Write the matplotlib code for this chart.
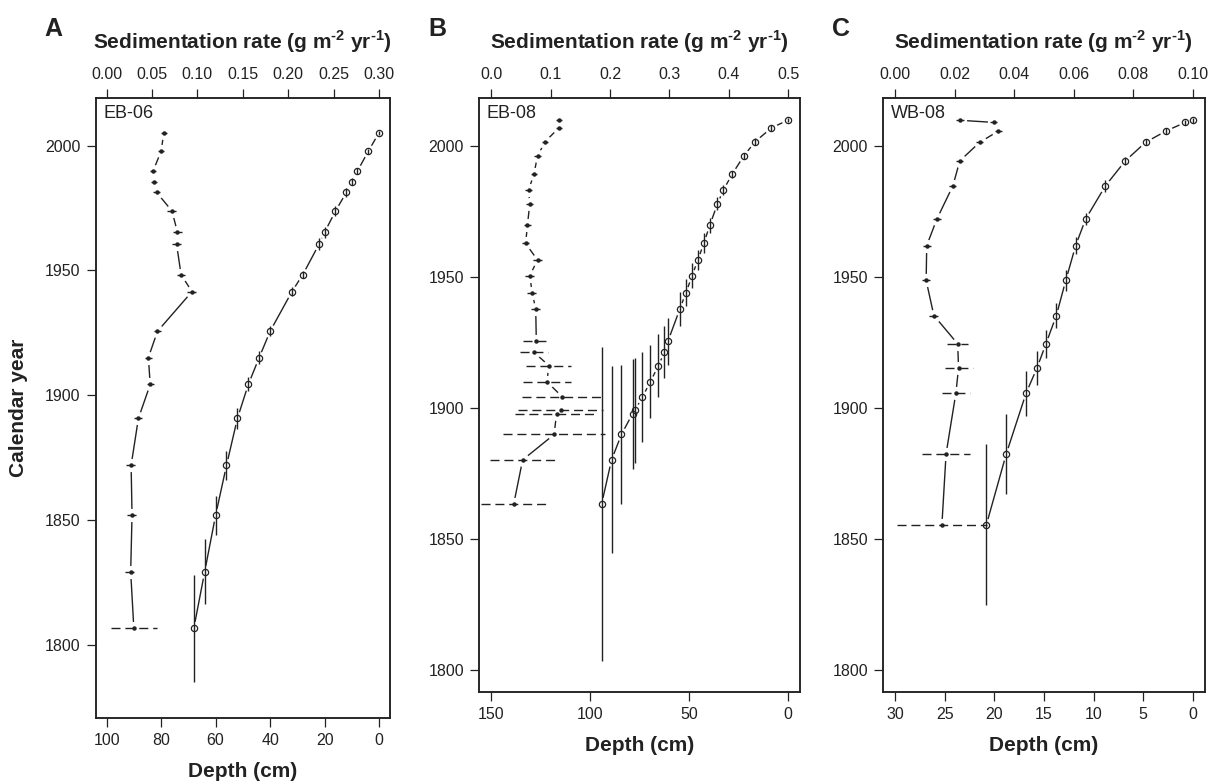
"""Depth and sedimentation rate against calendar year for three sediment cores."""

import matplotlib

matplotlib.use("Agg")
import matplotlib.pyplot as plt
from matplotlib.ticker import FormatStrFormatter

plt.rcParams["font.family"] = ["Liberation Sans", "DejaVu Sans"]
plt.rcParams["mathtext.fontset"] = "custom"
plt.rcParams["mathtext.rm"] = "Liberation Sans"
plt.rcParams["mathtext.bf"] = "Liberation Sans:bold"

INK = "#222222"
W, H = 1210, 782

# --- EB-06 ---
years_a = [2005.2, 1997.7, 1989.7, 1985.6, 1981.3, 1973.8, 1965.3, 1960.6, 1948.3,
           1941.5, 1925.6, 1915.1, 1904.3, 1890.7, 1871.9, 1851.9, 1829.3, 1806.6]
depth_a = [0, 4, 8, 10, 12, 16, 20, 22, 28, 32, 40, 44, 48, 52, 56, 60, 64, 68]
year_err_a = [0.8, 1.0, 1.2, 1.3, 1.8, 1.9, 2.2, 2.3, 1.5, 1.7, 2.0, 2.5, 2.8, 4.2,
              5.7, 7.8, 13.0, 21.5]
rate_a = [0.063, 0.060, 0.051, 0.052, 0.055, 0.072, 0.078, 0.077, 0.082, 0.094,
          0.056, 0.046, 0.048, 0.035, 0.027, 0.028, 0.0265, 0.030]
rate_err_a = [0.0035, 0.0035, 0.0035, 0.0035, 0.0035, 0.0055, 0.0045, 0.005, 0.0045,
              0.0055, 0.004, 0.0035, 0.004, 0.0045, 0.0055, 0.0055, 0.006, 0.0257]

# --- EB-08 ---
years_b = [2009.8, 2006.8, 2001.6, 1996.1, 1989.1, 1983.1, 1977.8, 1969.6, 1962.7,
           1956.4, 1950.4, 1943.9, 1937.7, 1925.4, 1921.2, 1916.1, 1909.9, 1904.1,
           1899.0, 1897.7, 1889.8, 1880.1, 1863.3]
depth_b = [0, 8.4, 16.6, 22.4, 28.3, 32.7, 35.7, 39.6, 42.6, 45.6, 48.5, 51.6, 54.7,
           60.7, 62.5, 65.5, 69.6, 73.6, 77.4, 78.6, 84.2, 89.2, 94.2]
year_err_b = [0.8, 1.0, 1.2, 1.3, 1.4, 1.9, 2.5, 3.0, 3.8, 3.8, 4.8, 5.2, 6.5, 9.0,
              10.0, 12.0, 14.0, 17.0, 20.0, 21.0, 26.5, 35.7, 60.0]
rate_b = [0.114, 0.114, 0.091, 0.078, 0.072, 0.063, 0.065, 0.061, 0.058, 0.078, 0.065,
          0.069, 0.075, 0.076, 0.072, 0.097, 0.094, 0.120, 0.117, 0.110, 0.106, 0.053,
          0.038]
rate_err_b = [0.0055, 0.0055, 0.0055, 0.0055, 0.0055, 0.006, 0.006, 0.006, 0.006,
              0.008, 0.0084, 0.0087, 0.0084, 0.022, 0.0235, 0.038, 0.040, 0.068,
              0.071, 0.070, 0.086, 0.055, 0.055]

# --- WB-08 ---
years_c = [2009.7, 2008.9, 2005.6, 2001.3, 1994.2, 1984.7, 1972.0, 1961.9, 1948.6,
           1935.2, 1924.4, 1915.2, 1905.6, 1882.4, 1855.4]
depth_c = [0, 0.75, 2.7, 4.75, 6.8, 8.8, 10.8, 11.8, 12.8, 13.75, 14.8, 15.7, 16.8,
           18.8, 20.8]
year_err_c = [1.0, 1.0, 1.1, 1.2, 1.6, 2.2, 2.4, 3.4, 4.1, 4.9, 5.3, 6.6, 8.6, 15.4, 30.7]
rate_c = [0.0218, 0.0331, 0.0347, 0.0284, 0.0217, 0.0194, 0.0140, 0.0106, 0.0104,
          0.0130, 0.0210, 0.0213, 0.0204, 0.0171, 0.0157]
rate_err_c = [0.0012, 0.0012, 0.0012, 0.0012, 0.0012, 0.0012, 0.0013, 0.0013, 0.0013,
              0.0015, 0.0036, 0.0047, 0.0048, 0.0081, 0.015]

# layout in pixels: left, top, right, bottom of each plot box
PANELS = [
    dict(letter="A", core="EB-06", box=(95.7, 97.7, 390.0, 717.7),
         depth_lim=(104, -4), depth_ticks=[100, 80, 60, 40, 20, 0],
         rate_lim=(-0.012, 0.312), rate_ticks=[0, 0.05, 0.10, 0.15, 0.20, 0.25, 0.30],
         rate_fmt="%.2f", ylim=(1770.8, 2019.2)),
    dict(letter="B", core="EB-08", box=(479.3, 97.5, 800.0, 691.8),
         depth_lim=(156, -6), depth_ticks=[150, 100, 50, 0],
         rate_lim=(-0.02, 0.52), rate_ticks=[0, 0.1, 0.2, 0.3, 0.4, 0.5],
         rate_fmt="%.1f", ylim=(1791.6, 2018.4)),
    dict(letter="C", core="WB-08", box=(883.3, 97.5, 1204.6, 691.8),
         depth_lim=(31.2, -1.2), depth_ticks=[30, 25, 20, 15, 10, 5, 0],
         rate_lim=(-0.004, 0.104), rate_ticks=[0, 0.02, 0.04, 0.06, 0.08, 0.10],
         rate_fmt="%.2f", ylim=(1791.6, 2018.4)),
]

RATE_LABEL = "Sedimentation rate (g m$^{\\mathbf{\u20102}}$ yr$^{\\mathbf{\u20101}}$)"


def fx(x):
    return x / W


def fy(y):
    return 1 - y / H


def draw_series(ax, x, y, marker_style, xerr=None, yerr=None, err_ls="solid"):
    ax.plot(x, y, color=INK, lw=1.0, zorder=2)
    # white halo so the connecting line stops short of each point
    ax.plot(x, y, ls="none", marker="o", ms=8.5, mfc="white", mec="white", zorder=3)
    eb = ax.errorbar(x, y, xerr=xerr, yerr=yerr, fmt="none", ecolor=INK,
                     elinewidth=1.0, zorder=4)
    for coll in eb.lines[2]:
        coll.set_linestyle(err_ls)
    ax.plot(x, y, ls="none", zorder=5, **marker_style)


def draw_core(fig, panel, years, depth, year_err, rate, rate_err):
    left, top, right, bottom = panel["box"]
    rect = [fx(left), fy(bottom), (right - left) / W, (bottom - top) / H]
    ax = fig.add_axes(rect)
    ax_top = ax.twiny()

    draw_series(ax, depth, years, yerr=year_err,
                marker_style=dict(marker="o", ms=4.5, mfc="none", mec=INK, mew=0.9))
    draw_series(ax_top, rate, years, xerr=rate_err, err_ls=(0, (6.5, 3.5)),
                marker_style=dict(marker="o", ms=2.2, mfc=INK, mec=INK))

    ax.set_xlim(panel["depth_lim"])
    ax.set_xticks(panel["depth_ticks"])
    ax.set_ylim(panel["ylim"])
    ax.set_yticks([1800, 1850, 1900, 1950, 2000])
    ax_top.set_xlim(panel["rate_lim"])
    ax_top.set_xticks(panel["rate_ticks"])
    ax_top.xaxis.set_major_formatter(FormatStrFormatter(panel["rate_fmt"]))

    for a in (ax, ax_top):
        a.tick_params(direction="out", length=6.5, width=0.9, labelsize=11.5,
                      pad=4.5, colors=INK)
        for spine in a.spines.values():
            spine.set_linewidth(1.1)
            spine.set_color(INK)

    cx = (left + right) / 2
    fig.text(fx(cx), fy(42), RATE_LABEL, ha="center", va="center",
             fontsize=15, fontweight="bold", color=INK)
    fig.text(fx(cx), fy(bottom + 54), "Depth (cm)", ha="center", va="center",
             fontsize=15, fontweight="bold", color=INK)
    fig.text(fx(left - 51), fy(29), panel["letter"], ha="left", va="center",
             fontsize=18, fontweight="bold", color=INK)
    fig.text(fx(left + 7.5), fy(top + 7), panel["core"], ha="left", va="top",
             fontsize=13, color=INK)


def main() -> None:
    fig = plt.figure(figsize=(W / 100, H / 100), dpi=100)
    series = [
        (years_a, depth_a, year_err_a, rate_a, rate_err_a),
        (years_b, depth_b, year_err_b, rate_b, rate_err_b),
        (years_c, depth_c, year_err_c, rate_c, rate_err_c),
    ]
    for panel, data in zip(PANELS, series):
        draw_core(fig, panel, *data)

    fig.text(fx(19), fy(408), "Calendar year", rotation=90, ha="center", va="center",
             fontsize=15, fontweight="bold", color=INK)
    fig.savefig("out.png", dpi=100)
    plt.close(fig)


if __name__ == "__main__":
    main()
